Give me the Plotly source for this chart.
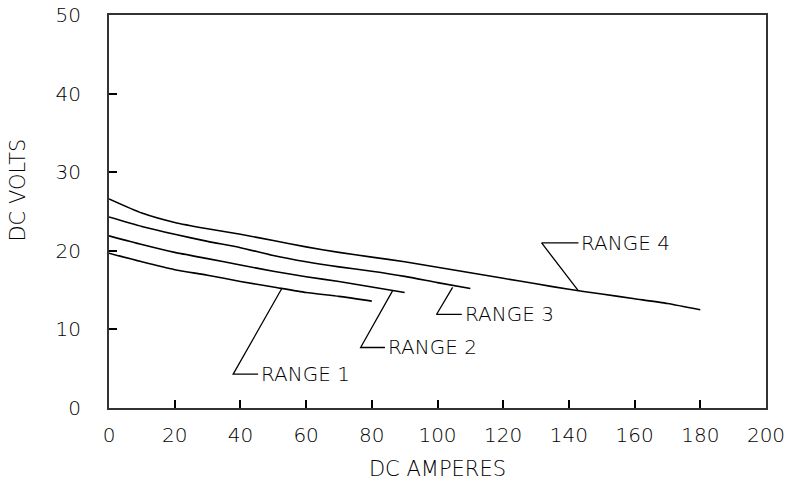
import plotly.graph_objects as go

# DC amperes sampled along each curve
amps = [0, 10, 20, 30, 40, 50, 60, 70, 80, 90, 100, 110, 120, 130, 140, 150, 160, 170, 180]

range1_volts = [19.7, 18.6, 17.6, 16.9, 16.1, 15.4, 14.7, 14.2, 13.6]
range2_volts = [21.9, 20.8, 19.8, 19.0, 18.2, 17.4, 16.7, 16.1, 15.4, 14.7]
range3_volts = [24.3, 23.1, 22.1, 21.2, 20.4, 19.4, 18.6, 17.95, 17.4, 16.75, 15.95, 15.2]
range4_volts = [26.6, 24.8, 23.6, 22.8, 22.1, 21.3, 20.5, 19.8, 19.2, 18.6, 17.9,
                17.2, 16.5, 15.8, 15.1, 14.5, 13.9, 13.3, 12.5]

# callout leaders: point on curve -> elbow -> end of horizontal tail (amps, volts)
labels = ["RANGE 1", "RANGE 2", "RANGE 3", "RANGE 4"]
leader_x = [[52.6, 37.8, 45.4], [86.3, 76.6, 84.0], [104.6, 99.7, 107.4], [142.9, 131.7, 142.9]]
leader_y = [[15.2, 4.3, 4.3], [14.9, 7.7, 7.7], [15.35, 11.9, 11.9], [14.9, 21.0, 21.0]]

x_ticks = [0, 20, 40, 60, 80, 100, 120, 140, 160, 180, 200]
y_ticks = [0, 10, 20, 30, 40, 50]

FONT = "DejaVu Sans"
INK = "#000000"

fig = go.Figure()

for volts in [range1_volts, range2_volts, range3_volts, range4_volts]:
    fig.add_trace(go.Scatter(
        x=amps[:len(volts)], y=volts, mode="lines",
        line=dict(color=INK, width=1.6, shape="spline", smoothing=0.6),
        showlegend=False, hoverinfo="skip"
    ))

for name, lx, ly in zip(labels, leader_x, leader_y):
    fig.add_trace(go.Scatter(
        x=lx, y=ly, mode="lines",
        line=dict(color=INK, width=1.3), showlegend=False, hoverinfo="skip"
    ))
    fig.add_annotation(
        x=lx[-1], y=ly[-1], text=name, showarrow=False,
        xanchor="left", yanchor="middle", xshift=1,
        font=dict(family=FONT, size=20, color=INK, weight=200)
    )

# y title sits a bit above the plot centre in the reference
fig.add_annotation(
    x=-0.138, xref="paper", y=27.7, yref="y", text="DC VOLTS", textangle=-90,
    showarrow=False, xanchor="center", yanchor="middle",
    font=dict(family=FONT, size=21, color=INK, weight=200)
)

fig.update_layout(
    width=788, height=489,
    paper_bgcolor="white", plot_bgcolor="white",
    margin=dict(l=109, r=22, t=15, b=81),
    font=dict(family=FONT, size=20, color=INK, weight=200),
    xaxis=dict(
        range=[0, 200], tickvals=x_ticks, ticks="inside", ticklen=8, tickwidth=1.5,
        tickcolor=INK, showgrid=False, zeroline=False, automargin=False,
        showline=True, linecolor="#333333", linewidth=2, mirror=True,
        ticklabelstandoff=8,
        title=dict(text="DC AMPERES", font=dict(size=21), standoff=15)
    ),
    yaxis=dict(
        range=[0, 50], tickvals=y_ticks, ticks="inside", ticklen=8, tickwidth=1.5,
        tickcolor=INK, showgrid=False, zeroline=False, automargin=False,
        showline=True, linecolor="#333333", linewidth=2, mirror=True,
        ticklabelstandoff=22
    ),
)

# drop the browser's default body margin so the figure sits at the window origin
fig.write_html("out.html", config={"displayModeBar": False},
               post_script="document.body.style.margin='0';")
